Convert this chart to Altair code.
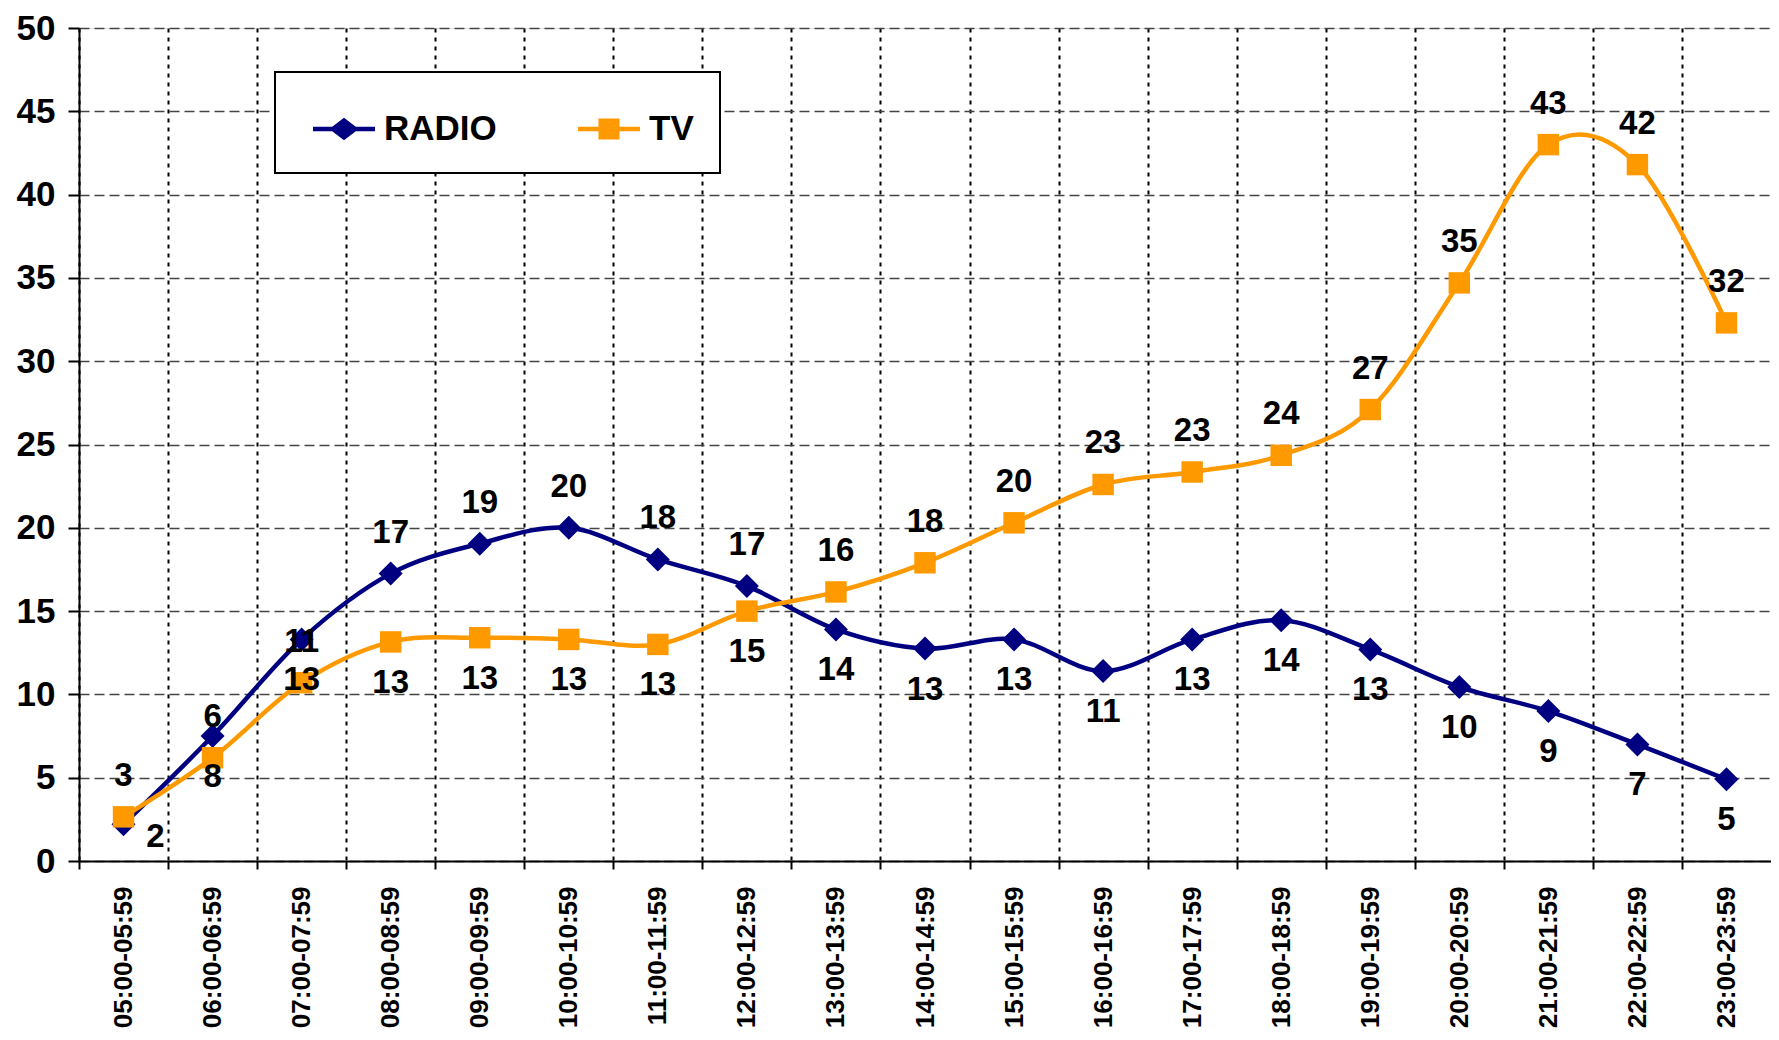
import altair as alt
import pandas as pd

times = ["05:00-05:59", "06:00-06:59", "07:00-07:59", "08:00-08:59", "09:00-09:59",
         "10:00-10:59", "11:00-11:59", "12:00-12:59", "13:00-13:59", "14:00-14:59",
         "15:00-15:59", "16:00-16:59", "17:00-17:59", "18:00-18:59", "19:00-19:59",
         "20:00-20:59", "21:00-21:59", "22:00-22:59", "23:00-23:59"]
radio = [2.2, 7.5, 13.3, 17.25, 19.05, 20.0, 18.1, 16.5, 13.9, 12.75, 13.3, 11.4,
         13.3, 14.45, 12.7, 10.45, 9.0, 7.0, 4.9]
tv = [2.65, 6.2, 10.7, 13.15, 13.4, 13.3, 13.0, 15.0, 16.15, 17.9, 20.3, 22.6,
      23.35, 24.35, 27.1, 34.7, 43.0, 41.8, 32.3]
radio_labels = [2, 8, 13, 17, 19, 20, 18, 17, 14, 13, 13, 11, 13, 14, 13, 10, 9, 7, 5]
tv_labels = [3, 6, 11, 13, 13, 13, 13, 15, 16, 18, 20, 23, 23, 24, 27, 35, 43, 42, 32]
radio_label_place = ["side", "below", "below", "above", "above", "above", "above", "above"] + ["below"] * 11
tv_label_place = ["above"] * 3 + ["below"] * 5 + ["above"] * 11
series_names = ["RADIO", "TV"]
series_colors = ["#000080", "#FF9900"]
y_ticks = [0, 5, 10, 15, 20, 25, 30, 35, 40, 45, 50]

rows = []
for name, vals, labs, places in [("RADIO", radio, radio_labels, radio_label_place),
                                 ("TV", tv, tv_labels, tv_label_place)]:
    for t, v, l, p in zip(times, vals, labs, places):
        rows.append({"time": t, "series": name, "value": v, "label": str(l), "place": p})
df = pd.DataFrame(rows)

FONT = "Liberation Sans"
W, H = 1692, 833
band = W / len(times)

xscale = alt.Scale(type="point", padding=0.5, domain=times)
yscale = alt.Scale(domain=[0, 50], nice=False, zero=True)
cscale = alt.Scale(domain=series_names, range=series_colors)

x_axis = alt.Axis(title=None, labelAngle=270, labelFont=FONT, labelFontSize=26,
                  labelFontWeight="bold", labelColor="black", labelPadding=17,
                  tickOffset=-band / 2, labelOffset=band / 2, ticks=True, tickSize=8,
                  tickColor="black", tickWidth=2, domainColor="black", domainWidth=2,
                  grid=True, gridColor="black", gridDash=[4, 5], gridWidth=2,
                  labelOverlap=False)
y_axis = alt.Axis(title=None, values=y_ticks, labelFont=FONT, labelFontSize=35,
                  labelFontWeight="bold", labelColor="black", labelPadding=13,
                  tickSize=11, tickColor="black", tickWidth=2, domainColor="black",
                  domainWidth=2, grid=True, gridColor="#444444", gridDash=[10, 5],
                  gridWidth=1.5)

X = alt.X("time:N", scale=xscale, axis=x_axis, sort=times)
Y = alt.Y("value:Q", scale=yscale, axis=y_axis)

base = alt.Chart(df)

line_radio = base.transform_filter("datum.series == 'RADIO'").mark_line(
    interpolate="cardinal", strokeWidth=4.5, color=series_colors[0]).encode(x=X, y=Y)
line_tv = base.transform_filter("datum.series == 'TV'").mark_line(
    interpolate="cardinal", strokeWidth=4.5, color=series_colors[1]).encode(x=X, y=Y)

pts_radio = base.transform_filter("datum.series == 'RADIO'").mark_point(
    shape="diamond", filled=True, size=576, opacity=1, color=series_colors[0]).encode(x=X, y=Y)
pts_tv = base.transform_filter("datum.series == 'TV'").mark_point(
    shape="square", filled=True, size=460, opacity=1, color=series_colors[1]).encode(x=X, y=Y)

txt_kw = dict(font=FONT, fontSize=33, fontWeight="bold", color="black",
              align="center", baseline="middle")
lab_above = base.transform_filter("datum.place == 'above'").mark_text(dy=-41, **txt_kw).encode(
    x=X, y=Y, text="label:N")
lab_below = base.transform_filter("datum.place == 'below'").mark_text(dy=41, **txt_kw).encode(
    x=X, y=Y, text="label:N")
lab_side = base.transform_filter("datum.place == 'side'").mark_text(dx=32, dy=13, **txt_kw).encode(
    x=X, y=Y, text="label:N")

path_radio = ("M-1,-0.075 L-0.38,-0.075 L0,-0.36 L0.38,-0.075 L1,-0.075 L1,0.075 "
              "L0.38,0.075 L0,0.36 L-0.38,0.075 L-1,0.075 Z")
path_tv = ("M-1,-0.075 L-0.34,-0.075 L-0.34,-0.34 L0.34,-0.34 L0.34,-0.075 L1,-0.075 "
           "L1,0.075 L0.34,0.075 L0.34,0.34 L-0.34,0.34 L-0.34,0.075 L-1,0.075 Z")

leg = alt.Legend(title=None, orient="none", legendX=196, legendY=44, direction="horizontal",
                 fillColor="white", strokeColor="black", padding=26,
                 columnPadding=69, labelFont=FONT, labelFontSize=35, labelFontWeight="bold",
                 labelColor="black", labelOffset=9, symbolSize=3844, symbolStrokeWidth=0,
                 symbolOffset=12, symbolOpacity=1, cornerRadius=0)
legend_layer = base.transform_filter("datum.value < 0").mark_point(filled=True).encode(
    x=X, y=Y,
    color=alt.Color("series:N", scale=cscale, legend=leg),
    shape=alt.Shape("series:N", scale=alt.Scale(domain=series_names, range=[path_radio, path_tv]),
                    legend=leg))

chart = alt.layer(line_radio, line_tv, pts_radio, pts_tv, lab_above, lab_below, lab_side,
                  legend_layer).properties(
    width=W, height=H,
    autosize=alt.AutoSizeParams(type="none"),
    padding={"left": 71, "top": 20, "right": 0, "bottom": 171},
).configure_view(stroke=None, fill="#CCFFCC").configure(background="white"
).configure_legend(strokeWidth=2)

chart.save("out.html", embed_options={"renderer": "svg", "actions": False})
